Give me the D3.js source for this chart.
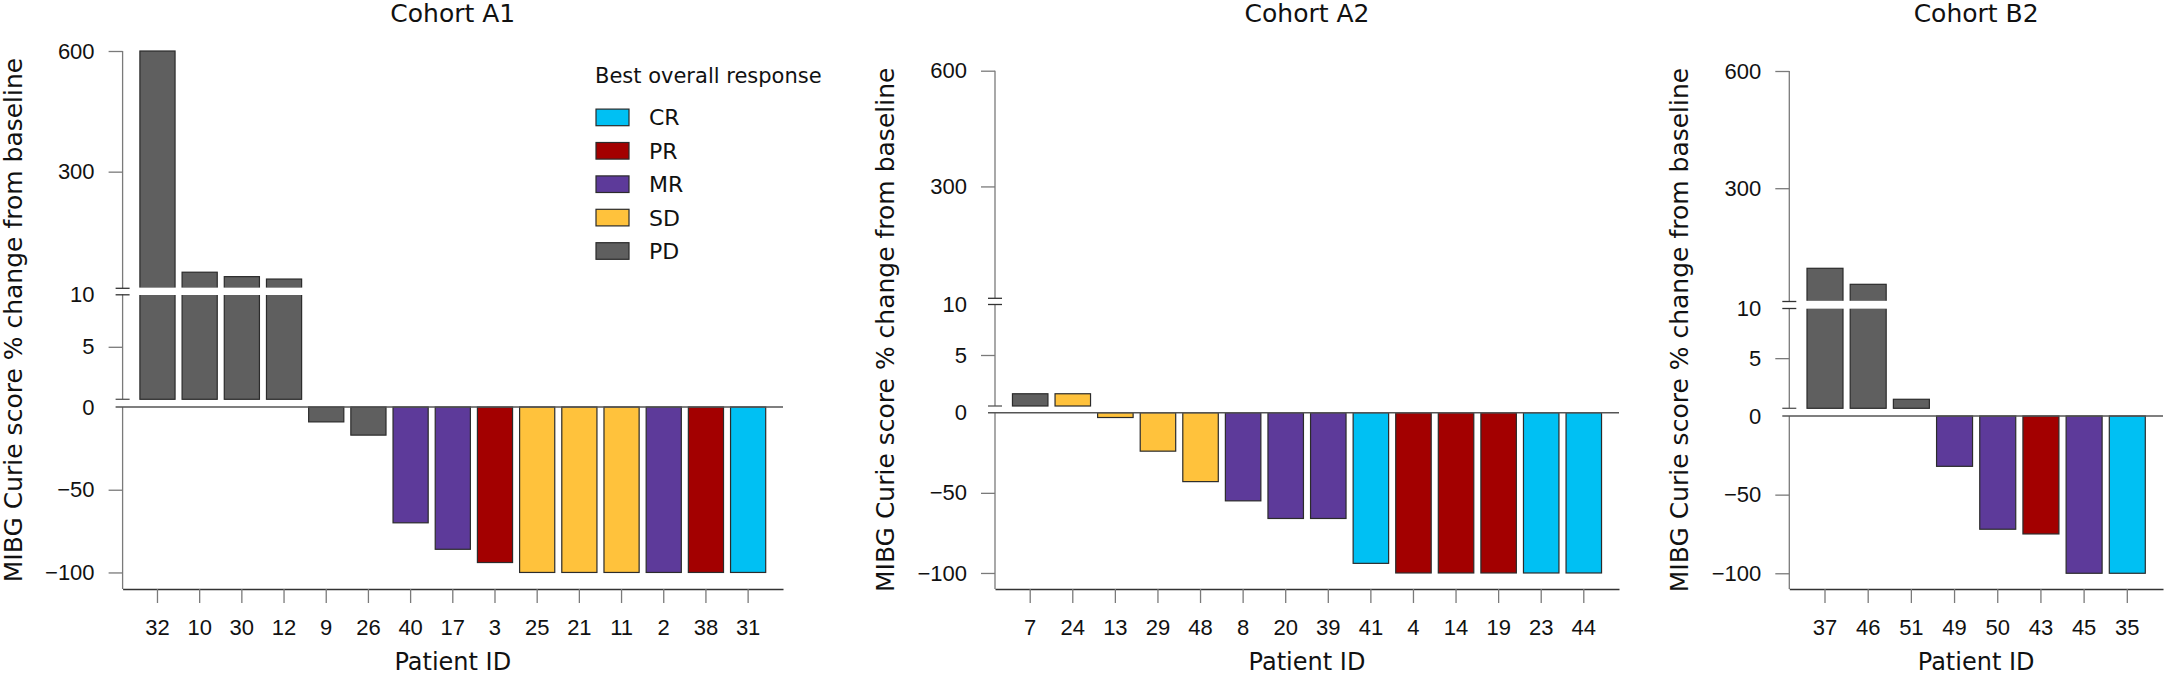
<!DOCTYPE html>
<html>
<head>
<meta charset="utf-8">
<script src="https://cdn.jsdelivr.net/npm/d3@7"></script>
<style>
html, body { margin: 0; padding: 0; background: #fff; }
svg { display: block; font-family: "DejaVu Sans", sans-serif; }
</style>
</head>
<body>
<div id="chart"></div>
<script>
// response categories + their fill colours
const responses = ["CR", "PR", "MR", "SD", "PD"];
const responseColors = ["#00c0f3", "#a30000", "#5d3a9a", "#ffc23c", "#5f5f5f"];

// y tick labels for each axis segment
const upperTicks = [300, 600];
const lowerTicks = [5, 10];
const negTicks = [0, -50, -100];

// Cohort A1
const a1Ids = ["32", "10", "30", "12", "9", "26", "40", "17", "3", "25", "21", "11", "2", "38", "31"];
const a1Change = [600, 50, 39, 33, -9, -17, -70, -86, -94, -100, -100, -100, -100, -100, -100];
const a1Response = ["PD", "PD", "PD", "PD", "PD", "PD", "MR", "MR", "PR", "SD", "SD", "SD", "MR", "PR", "CR"];

// Cohort A2
const a2Ids = ["7", "24", "13", "29", "48", "8", "20", "39", "41", "4", "14", "19", "23", "44"];
const a2Change = [1.2, 1.2, -3, -24, -43, -55, -66, -66, -94, -100, -100, -100, -100, -100];
const a2Response = ["PD", "SD", "SD", "SD", "SD", "MR", "MR", "MR", "CR", "PR", "PR", "PR", "CR", "CR"];

// Cohort B2
const b2Ids = ["37", "46", "51", "49", "50", "43", "45", "35"];
const b2Change = [95, 54, 0.9, -32, -72, -75, -100, -100];
const b2Response = ["PD", "PD", "PD", "MR", "MR", "PR", "MR", "CR"];

const W = 2165, H = 676;
const yBottom = 589;

const color = d3.scaleOrdinal().domain(responses).range(responseColors);

const svg = d3.select("#chart")
    .append("svg")
    .attr("width", W)
    .attr("height", H);

// panel layout (pixel positions of the broken y axis for each panel)
const panels = [
    { title: "Cohort A1", ids: a1Ids, values: a1Change, resp: a1Response,
      x0: 122.6, x1: 783, yTop: 51, yBreakHi: 288.3, yBreakLo: 294.3, yPosZero: 399.3, yZero: 407 },
    { title: "Cohort A2", ids: a2Ids, values: a2Change, resp: a2Response,
      x0: 995, x1: 1619, yTop: 70.7, yBreakHi: 298.3, yBreakLo: 304, yPosZero: 406, yZero: 412.7 },
    { title: "Cohort B2", ids: b2Ids, values: b2Change, resp: b2Response,
      x0: 1789.3, x1: 2163, yTop: 71, yBreakHi: 301.5, yBreakLo: 308, yPosZero: 408.3, yZero: 416 }
];

const axisGrey = "#7a7a7a";
const barStroke = "#2b2b2b";

panels.forEach(drawPanel);

function drawPanel(p) {
    const g = svg.append("g");

    const x = d3.scaleBand()
        .domain(p.ids)
        .range([p.x0, p.x1])
        .paddingInner(1 / 6)
        .paddingOuter(0.41);

    const yUp = d3.scaleLinear().domain([10, 600]).range([p.yBreakHi, p.yTop]);
    const yLow = d3.scaleLinear().domain([0, 10]).range([p.yPosZero, p.yBreakLo]);
    const yNeg = d3.scaleLinear().domain([-110, 0]).range([yBottom, p.yZero]);

    const rows = p.ids.map((id, i) => ({ id: id, v: p.values[i], r: p.resp[i] }));

    // upper segment pieces (> 10)
    g.selectAll(".bar-up")
        .data(rows.filter(d => d.v > 10))
        .join("rect")
        .attr("class", "bar-up")
        .attr("x", d => x(d.id))
        .attr("width", x.bandwidth())
        .attr("y", d => yUp(d.v))
        .attr("height", d => yUp(10) - yUp(d.v))
        .attr("fill", d => color(d.r))
        .attr("stroke", barStroke)
        .attr("stroke-width", 1.2);

    // lower positive segment (0 - 10)
    g.selectAll(".bar-low")
        .data(rows.filter(d => d.v > 0))
        .join("rect")
        .attr("class", "bar-low")
        .attr("x", d => x(d.id))
        .attr("width", x.bandwidth())
        .attr("y", d => yLow(Math.min(d.v, 10)))
        .attr("height", d => yLow(0) - yLow(Math.min(d.v, 10)))
        .attr("fill", d => color(d.r))
        .attr("stroke", barStroke)
        .attr("stroke-width", 1.2);

    // negative bars
    g.selectAll(".bar-neg")
        .data(rows.filter(d => d.v < 0))
        .join("rect")
        .attr("class", "bar-neg")
        .attr("x", d => x(d.id))
        .attr("width", x.bandwidth())
        .attr("y", yNeg(0))
        .attr("height", d => yNeg(d.v) - yNeg(0))
        .attr("fill", d => color(d.r))
        .attr("stroke", barStroke)
        .attr("stroke-width", 1.2);

    // white band through the bars at the 10 break
    g.append("rect")
        .attr("x", p.x0 + 8)
        .attr("y", p.yBreakHi - 0.7)
        .attr("width", p.x1 - p.x0 - 8)
        .attr("height", p.yBreakLo - p.yBreakHi + 1.4)
        .attr("fill", "#fff");

    // y axis pieces
    const yAxisG = g.append("g").attr("transform", `translate(${p.x0},0)`);
    [[p.yTop, p.yBreakHi], [p.yBreakLo, p.yPosZero], [p.yZero, yBottom]].forEach(s => {
        yAxisG.append("line")
            .attr("y1", s[0]).attr("y2", s[1])
            .attr("stroke", axisGrey).attr("stroke-width", 1.3);
    });

    const upAxis = yAxisG.append("g")
        .call(d3.axisLeft(yUp).tickValues(upperTicks).tickSize(14).tickPadding(14));
    const lowAxis = yAxisG.append("g")
        .call(d3.axisLeft(yLow).tickValues(lowerTicks).tickSize(14).tickPadding(14));
    const negAxis = yAxisG.append("g")
        .call(d3.axisLeft(yNeg).tickValues(negTicks).tickSize(14).tickPadding(14));

    [upAxis, lowAxis, negAxis].forEach(a => {
        a.select(".domain").remove();
        a.selectAll(".tick line").attr("stroke", axisGrey).attr("stroke-width", 1.3);
        a.selectAll(".tick text").attr("fill", "#111").style("font-size", "22px");
    });

    // 10 tick becomes the lower half of the break mark
    lowAxis.selectAll(".tick").filter(d => d === 10).select("line")
        .attr("x1", -7).attr("x2", 7).attr("stroke", "#333");
    negAxis.selectAll(".tick").filter(d => d === 0).select("line").remove();

    // break marks
    yAxisG.append("line")
        .attr("x1", -7).attr("x2", 7)
        .attr("y1", p.yBreakHi).attr("y2", p.yBreakHi)
        .attr("stroke", "#333").attr("stroke-width", 1.3);
    yAxisG.append("line")
        .attr("x1", -7).attr("x2", 7)
        .attr("y1", p.yPosZero).attr("y2", p.yPosZero)
        .attr("stroke", "#555").attr("stroke-width", 1.3);

    // zero line
    g.append("line")
        .attr("x1", p.x0 - 7).attr("x2", p.x1)
        .attr("y1", p.yZero).attr("y2", p.yZero)
        .attr("stroke", "#555").attr("stroke-width", 1.4);

    // x axis
    const xAxisG = g.append("g")
        .attr("transform", `translate(0,${yBottom})`)
        .call(d3.axisBottom(x).tickSize(14).tickSizeOuter(0).tickPadding(16));
    xAxisG.select(".domain").attr("stroke", "#333").attr("stroke-width", 1.3);
    xAxisG.selectAll(".tick line").attr("stroke", axisGrey).attr("stroke-width", 1.3);
    xAxisG.selectAll(".tick text").attr("fill", "#111").style("font-size", "22px");

    const cx = (p.x0 + p.x1) / 2;

    // title
    g.append("text")
        .attr("x", cx)
        .attr("y", 22)
        .attr("text-anchor", "middle")
        .style("font-size", "25px")
        .attr("fill", "#111")
        .text(p.title);

    // x label
    g.append("text")
        .attr("x", cx)
        .attr("y", 670)
        .attr("text-anchor", "middle")
        .style("font-size", "24px")
        .attr("fill", "#111")
        .text("Patient ID");

    // y label
    g.append("text")
        .attr("transform", "rotate(-90)")
        .attr("x", -(p.yTop + yBottom) / 2)
        .attr("y", p.x0 - 101)
        .attr("text-anchor", "middle")
        .style("font-size", "25px")
        .attr("fill", "#111")
        .text("MIBG Curie score % change from baseline");
}

// legend (inside Cohort A1)
const legend = svg.append("g").attr("transform", "translate(595,0)");
legend.append("text")
    .attr("x", 0)
    .attr("y", 83)
    .style("font-size", "21px")
    .attr("fill", "#111")
    .text("Best overall response");

const legendY = d3.scalePoint().domain(responses).range([117.4, 251]);

legend.selectAll(".legend-box")
    .data(responses)
    .join("rect")
    .attr("class", "legend-box")
    .attr("x", 1)
    .attr("y", d => legendY(d) - 8.3)
    .attr("width", 33)
    .attr("height", 16.6)
    .attr("fill", d => color(d))
    .attr("stroke", barStroke)
    .attr("stroke-width", 1.2);

legend.selectAll(".legend-label")
    .data(responses)
    .join("text")
    .attr("class", "legend-label")
    .attr("x", 54)
    .attr("y", d => legendY(d))
    .attr("dy", "0.36em")
    .style("font-size", "22px")
    .attr("fill", "#111")
    .text(d => d);
</script>
</body>
</html>
